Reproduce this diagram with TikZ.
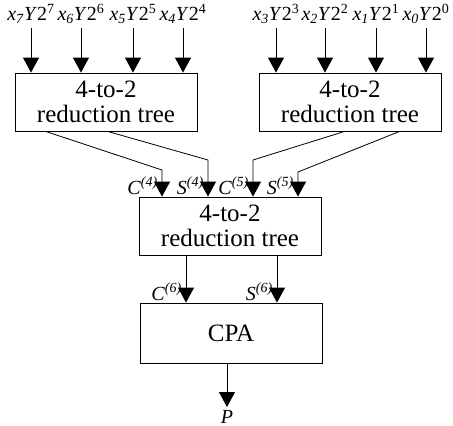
\documentclass[tikz,border=0pt]{standalone}
\usepackage{fontspec}
\setmainfont{Liberation Serif}
\usetikzlibrary{arrows.meta}
\newcommand{\xterm}[2]{\textit{x}\textsubscript{\textit{#1}}\textit{Y}2\textsuperscript{#2}}
\newcommand{\vecsig}[2]{\textit{#1}\textsuperscript{\textit{(#2)}}}
\begin{document}
\begin{tikzpicture}[x=1pt,y=-1pt,
  blk/.style={draw, line width=0.8pt, minimum width=182pt, inner sep=0pt,
    align=center, font=\fontsize{25}{25}\selectfont},
  sig/.style={line width=0.8pt, -{Triangle[width=16pt,length=15pt]}},
  lbl/.style={font=\fontsize{20}{20}\selectfont, inner sep=0pt}]
\useasboundingbox (0,0) rectangle (453,426);

% reduction blocks
\node[blk, minimum height=58pt] (L) at (106,102) {4-to-2\\reduction tree};
\node[blk, minimum height=58pt] (R) at (350,102) {4-to-2\\reduction tree};
\node[blk, minimum height=58pt] (M) at (230,226) {4-to-2\\reduction tree};
\node[blk, minimum height=60pt] (C) at (231,333) {CPA};

% partial product inputs
\foreach \i/\x in {7/31,6/81,5/133,4/183}{
  \node[lbl] (t\i) at (\x,14) {\xterm{\i}{\i}};
  \coordinate (s\i) at (\x,28);
  \draw[sig] (s\i) -- (s\i |- L.north);
}
\foreach \i/\x in {3/276,2/325,1/376,0/426}{
  \node[lbl] (t\i) at (\x,14) {\xterm{\i}{\i}};
  \coordinate (s\i) at (\x,28);
  \draw[sig] (s\i) -- (s\i |- R.north);
}

% carry / sum vectors into the final tree
\coordinate (b1) at (162,170);
\coordinate (b2) at (208,160);
\coordinate (b3) at (253,160);
\coordinate (b4) at (298,172);
\draw[sig] ([xshift=31pt]L.south west) -- (b1) -- (b1 |- M.north);
\draw[sig] ([xshift=93pt]L.south west) -- (b2) -- (b2 |- M.north);
\draw[sig] ([xshift=86pt]R.south west) -- (b3) -- (b3 |- M.north);
\draw[sig] ([xshift=141pt]R.south west) -- (b4) -- (b4 |- M.north);
\node[lbl, anchor=base east] (c4) at (158,194) {\vecsig{C}{4}};
\node[lbl, anchor=base east] (s4l) at (204,194) {\vecsig{S}{4}};
\node[lbl, anchor=base east] (c5) at (249,194) {\vecsig{C}{5}};
\node[lbl, anchor=base east] (s5l) at (294,194) {\vecsig{S}{5}};

% final carry / sum into the adder
\coordinate (d1) at (186,255);
\coordinate (d2) at (277,255);
\draw[sig] (d1 |- M.south) -- (d1 |- C.north);
\draw[sig] (d2 |- M.south) -- (d2 |- C.north);
\node[lbl, anchor=base east] (c6) at (182,300) {\vecsig{C}{6}};
\node[lbl, anchor=base east] (s6l) at (273,300) {\vecsig{S}{6}};

% product output
\node[lbl, anchor=base] (P) at (227,423) {\textit{P}};
\coordinate (p) at (227,407);
\draw[sig] (p |- C.south) -- (p);
\end{tikzpicture}
\end{document}
